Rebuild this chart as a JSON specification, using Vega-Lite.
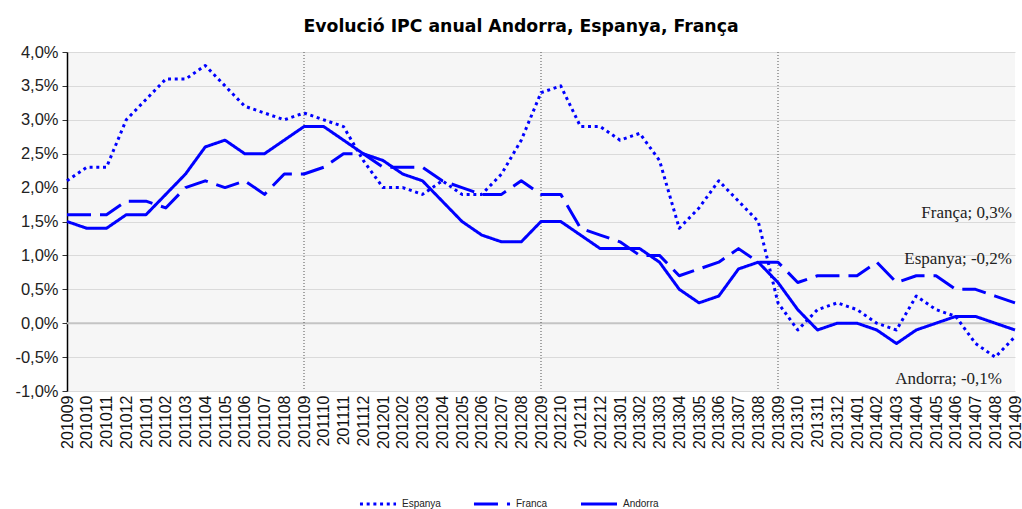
{
  "$schema": "https://vega.github.io/schema/vega-lite/v6.json",
  "width": 948,
  "height": 339,
  "autosize": {"type": "none"},
  "padding": {"left": 67, "top": 52, "right": 7, "bottom": 118},
  "background": "white",
  "title": {"text": "Evolució IPC anual Andorra, Espanya, França", "font": "DejaVu Sans", "fontSize": 17.3, "fontWeight": "bold", "color": "#000000", "anchor": "middle", "offset": 9, "dx": -20},
  "datasets": {
    "ipc": [
      {"month": "201009", "Espanya": 2.1, "Franca": 1.6, "Andorra": 1.5},
      {"month": "201010", "Espanya": 2.3, "Franca": 1.6, "Andorra": 1.4},
      {"month": "201011", "Espanya": 2.3, "Franca": 1.6, "Andorra": 1.4},
      {"month": "201012", "Espanya": 3.0, "Franca": 1.8, "Andorra": 1.6},
      {"month": "201101", "Espanya": 3.3, "Franca": 1.8, "Andorra": 1.6},
      {"month": "201102", "Espanya": 3.6, "Franca": 1.7, "Andorra": 1.9},
      {"month": "201103", "Espanya": 3.6, "Franca": 2.0, "Andorra": 2.2},
      {"month": "201104", "Espanya": 3.8, "Franca": 2.1, "Andorra": 2.6},
      {"month": "201105", "Espanya": 3.5, "Franca": 2.0, "Andorra": 2.7},
      {"month": "201106", "Espanya": 3.2, "Franca": 2.1, "Andorra": 2.5},
      {"month": "201107", "Espanya": 3.1, "Franca": 1.9, "Andorra": 2.5},
      {"month": "201108", "Espanya": 3.0, "Franca": 2.2, "Andorra": 2.7},
      {"month": "201109", "Espanya": 3.1, "Franca": 2.2, "Andorra": 2.9},
      {"month": "201110", "Espanya": 3.0, "Franca": 2.3, "Andorra": 2.9},
      {"month": "201111", "Espanya": 2.9, "Franca": 2.5, "Andorra": 2.7},
      {"month": "201112", "Espanya": 2.4, "Franca": 2.5, "Andorra": 2.5},
      {"month": "201201", "Espanya": 2.0, "Franca": 2.3, "Andorra": 2.4},
      {"month": "201202", "Espanya": 2.0, "Franca": 2.3, "Andorra": 2.2},
      {"month": "201203", "Espanya": 1.9, "Franca": 2.3, "Andorra": 2.1},
      {"month": "201204", "Espanya": 2.1, "Franca": 2.1, "Andorra": 1.8},
      {"month": "201205", "Espanya": 1.9, "Franca": 2.0, "Andorra": 1.5},
      {"month": "201206", "Espanya": 1.9, "Franca": 1.9, "Andorra": 1.3},
      {"month": "201207", "Espanya": 2.2, "Franca": 1.9, "Andorra": 1.2},
      {"month": "201208", "Espanya": 2.7, "Franca": 2.1, "Andorra": 1.2},
      {"month": "201209", "Espanya": 3.4, "Franca": 1.9, "Andorra": 1.5},
      {"month": "201210", "Espanya": 3.5, "Franca": 1.9, "Andorra": 1.5},
      {"month": "201211", "Espanya": 2.9, "Franca": 1.4, "Andorra": 1.3},
      {"month": "201212", "Espanya": 2.9, "Franca": 1.3, "Andorra": 1.1},
      {"month": "201301", "Espanya": 2.7, "Franca": 1.2, "Andorra": 1.1},
      {"month": "201302", "Espanya": 2.8, "Franca": 1.0, "Andorra": 1.1},
      {"month": "201303", "Espanya": 2.4, "Franca": 1.0, "Andorra": 0.9},
      {"month": "201304", "Espanya": 1.4, "Franca": 0.7, "Andorra": 0.5},
      {"month": "201305", "Espanya": 1.7, "Franca": 0.8, "Andorra": 0.3},
      {"month": "201306", "Espanya": 2.1, "Franca": 0.9, "Andorra": 0.4},
      {"month": "201307", "Espanya": 1.8, "Franca": 1.1, "Andorra": 0.8},
      {"month": "201308", "Espanya": 1.5, "Franca": 0.9, "Andorra": 0.9},
      {"month": "201309", "Espanya": 0.3, "Franca": 0.9, "Andorra": 0.6},
      {"month": "201310", "Espanya": -0.1, "Franca": 0.6, "Andorra": 0.2},
      {"month": "201311", "Espanya": 0.2, "Franca": 0.7, "Andorra": -0.1},
      {"month": "201312", "Espanya": 0.3, "Franca": 0.7, "Andorra": 0.0},
      {"month": "201401", "Espanya": 0.2, "Franca": 0.7, "Andorra": 0.0},
      {"month": "201402", "Espanya": 0.0, "Franca": 0.9, "Andorra": -0.1},
      {"month": "201403", "Espanya": -0.1, "Franca": 0.6, "Andorra": -0.3},
      {"month": "201404", "Espanya": 0.4, "Franca": 0.7, "Andorra": -0.1},
      {"month": "201405", "Espanya": 0.2, "Franca": 0.7, "Andorra": 0.0},
      {"month": "201406", "Espanya": 0.1, "Franca": 0.5, "Andorra": 0.1},
      {"month": "201407", "Espanya": -0.3, "Franca": 0.5, "Andorra": 0.1},
      {"month": "201408", "Espanya": -0.5, "Franca": 0.4, "Andorra": 0.0},
      {"month": "201409", "Espanya": -0.2, "Franca": 0.3, "Andorra": -0.1}
    ],
    "marks": [
      {"month": "201109"},
      {"month": "201209"},
      {"month": "201309"}
    ],
    "zero": [
      {"value": 0}
    ],
    "notes": [
      {"month": "201409", "value": 1.63, "label": "França; 0,3%", "key": "a"},
      {"month": "201409", "value": 0.95, "label": "Espanya; -0,2%", "key": "a"},
      {"month": "201409", "value": -0.83, "label": "Andorra; -0,1%", "key": "b"}
    ]
  },
  "layer": [
    {
      "data": {"name": "zero"},
      "mark": {"type": "rule", "color": "#c4c4c4", "strokeWidth": 2},
      "encoding": {
        "y": {
          "field": "value",
          "type": "quantitative",
          "scale": {"domain": [-1, 4], "nice": false, "zero": false},
          "axis": {
            "title": null,
            "values": [-1, -0.5, 0, 0.5, 1, 1.5, 2, 2.5, 3, 3.5, 4],
            "tickCount": 20,
            "labelExpr": "replace(replace(format(datum.value, '.1f'), '.', ','), '\u2212', '-') + '%'",
            "labelOverlap": false,
            "labelFlush": false,
            "labelFont": "Liberation Sans",
            "labelFontSize": 16.5,
            "labelColor": "#222222",
            "domainColor": "#000000",
            "domainWidth": 1.5,
            "tickColor": "#333333",
            "tickSize": 5,
            "labelPadding": 4,
            "gridColor": "#dadada",
            "gridWidth": 1
          }
        }
      }
    },
    {
      "data": {"name": "marks"},
      "mark": {"type": "rule", "color": "#555555", "strokeWidth": 1, "strokeDash": [1, 2]},
      "encoding": {
        "x": {"field": "month", "type": "ordinal"}
      }
    },
    {
      "data": {"name": "ipc"},
      "transform": [{"fold": ["Espanya", "Franca", "Andorra"], "as": ["serie", "value"]}],
      "mark": {"type": "line", "color": "#0000ff", "strokeWidth": 3, "strokeJoin": "round"},
      "encoding": {
        "x": {
          "field": "month",
          "type": "ordinal",
          "scale": {"type": "point", "padding": 0},
          "axis": {"title": null, "labelAngle": -90, "labelFont": "Liberation Sans", "labelFontSize": 16, "labelColor": "#111111", "domain": false, "ticks": false, "grid": false, "labelPadding": 4, "labelOverlap": false}
        },
        "y": {
          "field": "value",
          "type": "quantitative"
        },
        "strokeDash": {
          "field": "serie",
          "type": "nominal",
          "scale": {"domain": ["Espanya", "Franca", "Andorra"], "range": [[3, 3.7], [24, 9], [1, 0]]},
          "legend": {
            "title": null,
            "orient": "none",
            "legendX": 291,
            "legendY": 432,
            "direction": "horizontal",
            "symbolType": "stroke",
            "symbolSize": 1300,
            "symbolStrokeWidth": 3,
            "symbolStrokeColor": "#0000ff",
            "labelFont": "Liberation Sans",
            "labelFontSize": 10,
            "labelColor": "#222222",
            "labelOffset": 4,
            "columnPadding": 26
          }
        }
      }
    },
    {
      "data": {"name": "notes"},
      "transform": [{"filter": "datum.key == 'a'"}],
      "mark": {"type": "text", "align": "right", "baseline": "middle", "dx": -3, "font": "Liberation Serif", "fontSize": 17, "color": "#222222"},
      "encoding": {
        "x": {"field": "month", "type": "ordinal"},
        "y": {"field": "value", "type": "quantitative"},
        "text": {"field": "label"}
      }
    },
    {
      "data": {"name": "notes"},
      "transform": [{"filter": "datum.key == 'b'"}],
      "mark": {"type": "text", "align": "right", "baseline": "middle", "dx": -13, "font": "Liberation Serif", "fontSize": 17, "color": "#222222"},
      "encoding": {
        "x": {"field": "month", "type": "ordinal"},
        "y": {"field": "value", "type": "quantitative"},
        "text": {"field": "label"}
      }
    }
  ],
  "config": {
    "view": {"fill": "#f6f6f6", "stroke": null}
  }
}
